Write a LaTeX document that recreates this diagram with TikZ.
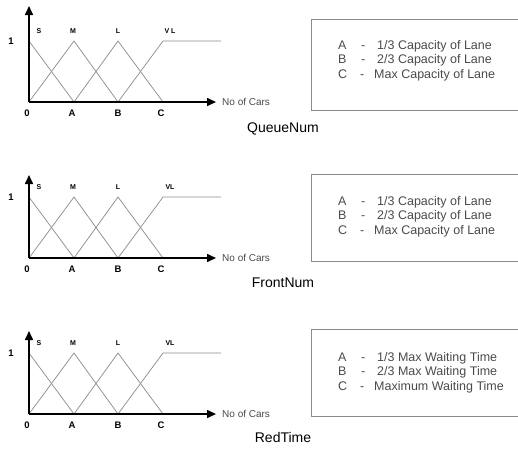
\documentclass[tikz,border=0pt]{standalone}
\usepackage{fontspec}
\setmainfont{Liberation Sans}
\usetikzlibrary{arrows.meta,positioning}
\definecolor{mfgray}{HTML}{8A8A8A}
\definecolor{txtgray}{HTML}{4A4A4A}

\begin{document}
\begin{tikzpicture}[x=1pt,y=-1pt,
  axis/.style={line width=1.6pt,-{Triangle[length=9pt,width=8pt]}},
  mf/.style={mfgray,line width=0.7pt},
  boxline/.style={draw=mfgray,line width=0.9pt},
  tick/.style={font=\bfseries\fontsize{9.5}{10}\selectfont,inner sep=0pt},
  term/.style={font=\bfseries\fontsize{7}{8}\selectfont,inner sep=0pt},
  unit/.style={txtgray,font=\fontsize{10}{11}\selectfont,inner sep=0pt,anchor=west},
  legend/.style={txtgray,font=\fontsize{12.5}{13}\selectfont,inner sep=0pt,anchor=base west},
  caption/.style={font=\fontsize{14}{15}\selectfont,inner sep=0pt}]
\useasboundingbox (0,0) rectangle (518,448);
\foreach \ay/\ty/\bt/\bb/\tt/\ttl/\vl/\name/\da/\db/\dc/\k in {
  102/6/19/110/49/129/{V L}/QueueNum/{1/3 Capacity of Lane}/{2/3 Capacity of Lane}/{Max Capacity of Lane}/1,
  258/175/174/261/205/283/VL/FrontNum/{1/3 Capacity of Lane}/{2/3 Capacity of Lane}/{Max Capacity of Lane}/2,
  414/331/329/416/361/437/VL/RedTime/{1/3 Max Waiting Time}/{2/3 Max Waiting Time}/{Maximum Waiting Time}/3}{
  % axes and membership functions
  \coordinate (o\k) at (29,\ay);
  \coordinate (ytip\k) at (29,\ty);
  \coordinate (xtip\k) at (216,\ay);
  \coordinate (a\k) at (74,\ay);
  \coordinate (b\k) at (118,\ay);
  \coordinate (c\k) at (163,\ay);
  \coordinate (s\k) at (29,\ay-61);
  \coordinate (m\k) at (74,\ay-61);
  \coordinate (l\k) at (118,\ay-61);
  \coordinate (v\k) at (163,\ay-61);
  \coordinate (e\k) at (221,\ay-61);
  \draw[mf] (s\k) -- (a\k);
  \draw[mf] (o\k) -- (m\k) -- (b\k);
  \draw[mf] (a\k) -- (l\k) -- (c\k);
  \draw[mf] (b\k) -- (v\k) -- (e\k);
  \draw[axis] (o\k) -- (ytip\k);
  \draw[axis] (o\k) -- (xtip\k);
  \node[tick] (one\k) at (11,\ay-61) {1};
  \node[tick] (zero\k) at (27,\ay+11) {0};
  \node[tick] (tA\k) at (72,\ay+11) {A};
  \node[tick] (tB\k) at (118,\ay+11) {B};
  \node[tick] (tC\k) at (161,\ay+11) {C};
  \node[term] (tS\k) at (39,\ay-71) {S};
  \node[term] (tM\k) at (73,\ay-71) {M};
  \node[term] (tL\k) at (118,\ay-71) {L};
  \node[term] (tV\k) at (170,\ay-71) {\vl};
  \node[unit] (unit\k) at (222,\ay) {No of Cars};
  % legend box
  \draw[boxline] (518,\bt) -| (311,\bb) -- (518,\bb);
  \node[legend] (la\k) at (338,\tt) {A};
  \node[legend] (ma\k) at (361,\tt) {-};
  \node[legend] (da\k) at (377,\tt) {\da};
  \node[legend] (lb\k) at (338,\tt+14.5) {B};
  \node[legend] (mb\k) at (361,\tt+14.5) {-};
  \node[legend] (db\k) at (377,\tt+14.5) {\db};
  \node[legend] (lc\k) at (338,\tt+29) {C};
  \node[legend] (mc\k) at (360,\tt+29) {-};
  \node[legend] (dc\k) at (374,\tt+29) {\dc};
  \node[caption] (title\k) at (283,\ttl) {\name};
}
\end{tikzpicture}
\end{document}
